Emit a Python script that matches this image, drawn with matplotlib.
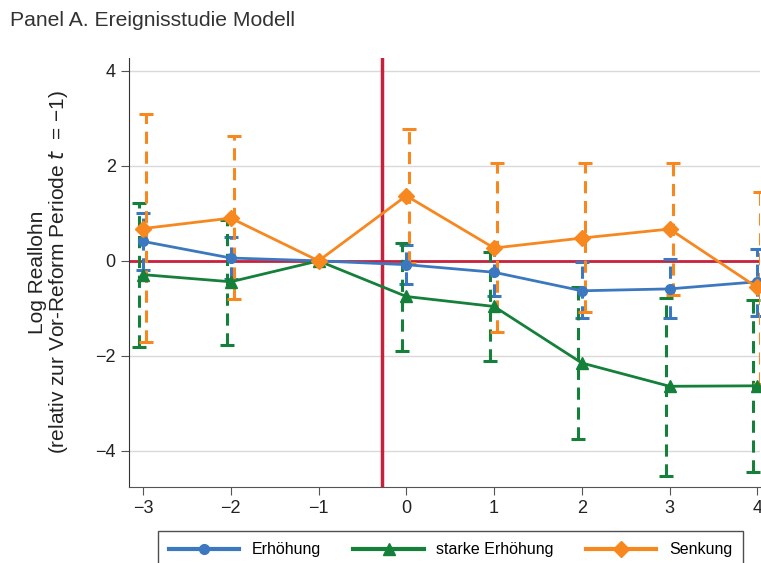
import matplotlib.pyplot as plt
import numpy as np

plt.rcParams['font.family'] = ['Liberation Sans', 'DejaVu Sans']

periods = np.array([-3, -2, -1, 0, 1, 2, 3, 4])

erh = [0.41, 0.06, 0.0, -0.08, -0.24, -0.63, -0.59, -0.44]
erh_lo = [-0.20, -0.39, 0.0, -0.48, -0.75, -1.20, -1.20, -1.16]
erh_hi = [1.00, 0.51, 0.0, 0.33, 0.28, -0.03, 0.04, 0.25]

stark = [-0.29, -0.44, 0.0, -0.75, -0.96, -2.15, -2.64, -2.63]
stark_lo = [-1.82, -1.77, 0.0, -1.90, -2.10, -3.75, -4.52, -4.44]
stark_hi = [1.22, 0.85, 0.0, 0.38, 0.18, -0.55, -0.78, -0.82]

senk = [0.68, 0.90, 0.0, 1.37, 0.27, 0.48, 0.67, -0.56]
senk_lo = [-1.70, -0.80, 0.0, -0.04, -1.50, -1.07, -0.72, -2.60]
senk_hi = [3.09, 2.62, 0.0, 2.78, 2.06, 2.06, 2.06, 1.45]

reform_line = -0.28

c_blue = '#3b78c0'
c_green = '#15803a'
c_orange = '#f7871f'
c_red = '#c8213d'


def draw(ax, x, y, lo, hi, color, marker, ms, label, shift):
    y = np.array(y)
    err = [y - np.array(lo), np.array(hi) - y]
    eb = ax.errorbar(x + shift, y, yerr=err, fmt='none', ecolor=color,
                     elinewidth=2.2, capsize=5, capthick=2.2, zorder=3)
    for lc in eb[2]:
        lc.set_linestyle((0, (4, 2.5)))
    ax.plot(x, y, color=color, lw=2, marker=marker, ms=ms, label=label,
            zorder=4)


fig = plt.figure(figsize=(7.61, 5.63), dpi=100)
ax = fig.add_axes([129 / 761, 76 / 563, 631 / 761, 429 / 563])

ax.set_xlim(-3.16, 4.03)
ax.set_ylim(-4.76, 4.27)
ax.set_yticks([-4, -2, 0, 2, 4])
ax.set_xticks(periods)
ax.set_yticklabels(['\u22124', '\u22122', '0', '2', '4'])
ax.set_xticklabels(['\u22123', '\u22122', '\u22121', '0', '1', '2', '3', '4'])
ax.grid(axis='y', color='#d9d9d9', lw=1)
ax.set_axisbelow(True)
for s in ['top', 'right']:
    ax.spines[s].set_visible(False)
ax.spines['left'].set_color('#333333')
ax.spines['bottom'].set_color('#555555')
ax.tick_params(labelsize=13, length=6, color='#555555', labelcolor='#222222')

ax.axhline(0, color=c_red, lw=2, zorder=2)
ax.axvline(reform_line, color=c_red, lw=2.5, zorder=2)

draw(ax, periods, erh, erh_lo, erh_hi, c_blue, 'o', 7, 'Erhöhung', 0.0)
draw(ax, periods, stark, stark_lo, stark_hi, c_green, '^', 8, 'starke Erhöhung', -0.045)
draw(ax, periods, senk, senk_lo, senk_hi, c_orange, 'D', 8, 'Senkung', 0.035)

ax.set_ylabel('Log Reallohn\n(relativ zur Vor-Reform Periode $t$  = \u22121)',
              fontsize=15, color='#222222', labelpad=18, linespacing=1.0)

fig.text(10 / 761, 1 - 21 / 563, 'Panel A. Ereignisstudie Modell', fontsize=15.2,
         color='#333333', va='center')

handles, labels = ax.get_legend_handles_labels()
leg = fig.legend(handles, labels, loc='upper left', ncol=3,
                 bbox_to_anchor=(158 / 761, 32 / 563), fontsize=11.5,
                 frameon=True, fancybox=False, edgecolor='#222222',
                 handlelength=4.4, columnspacing=2.0, borderpad=0.7,
                 handletextpad=0.8, borderaxespad=0)
leg.get_frame().set_linewidth(1)
for h in leg.legend_handles:
    h.set_linewidth(3)

fig.savefig('out.png', dpi=100)
